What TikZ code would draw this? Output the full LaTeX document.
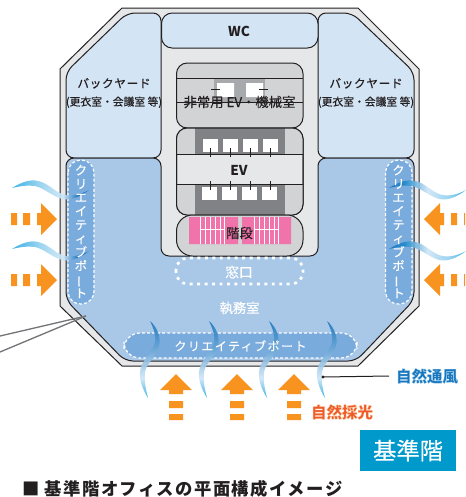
\documentclass[tikz,border=0pt]{standalone}
\usepackage{fontspec}
\usepackage{graphicx}
\setmainfont{Noto Sans CJK JP}
\usetikzlibrary{calc}
\definecolor{ink}{HTML}{231F20}
\definecolor{floorgray}{HTML}{E6E7E8}
\definecolor{coregray}{HTML}{D1D3D4}
\definecolor{darkgray}{HTML}{808285}
\definecolor{midgray}{HTML}{A7A9AC}
\definecolor{paleblue}{HTML}{D3E4F5}
\definecolor{officeblue}{HTML}{A9C8E8}
\definecolor{portblue}{HTML}{7AABDD}
\definecolor{arrowor}{HTML}{F7931E}
\definecolor{stairpink}{HTML}{F173AC}
\definecolor{tagblue}{HTML}{0099CC}
\definecolor{windcy}{HTML}{29ABE2}
\definecolor{winddk}{HTML}{1B75BC}
\definecolor{windpl}{HTML}{CFE6F6}
\definecolor{redor}{HTML}{EE5A2B}
\pgfdeclarehorizontalshading{windLR}{100bp}{color(0bp)=(windcy);color(25bp)=(windcy);color(45bp)=(windpl!70!windcy);color(58bp)=(windpl);color(68bp)=(winddk);color(75bp)=(winddk);color(100bp)=(winddk)}
\pgfdeclarehorizontalshading{windRL}{100bp}{color(0bp)=(winddk);color(25bp)=(winddk);color(35bp)=(winddk!60!windcy);color(50bp)=(windpl);color(65bp)=(windpl!60!windcy);color(75bp)=(windcy);color(100bp)=(windcy)}
\pgfdeclareverticalshading{windUP}{100bp}{color(0bp)=(windcy);color(25bp)=(windcy);color(38bp)=(windpl);color(55bp)=(winddk!50!windpl);color(75bp)=(winddk);color(100bp)=(winddk)}
% one single text whose outline is stroked in a second colour (#1 = weight, #2 = stroke rgb)
\newcommand{\halotxt}[3]{\leavevmode\special{pdf:code q #2 RG}{\addfontfeature{FakeBold=#1}#3}\special{pdf:code Q}}
\newcommand{\med}{\addfontfeature{FakeBold=0.35}}
\tikzset{
  x=0.75pt,y=-0.75pt,
  wall/.style={draw=ink,line width=0.75pt},
  arrowfill/.style={fill=arrowor,draw=none},
  port/.style={fill=portblue,draw=white,line width=0.9pt,dash pattern=on 2.2pt off 1.6pt,rounded corners=9.5pt},
  lbl/.style={text=ink,font=\fontsize{10pt}{12pt}\selectfont\med,inner sep=0pt},
  boldlbl/.style={text=ink,font=\fontsize{10.2pt}{12pt}\selectfont\bfseries,inner sep=0pt},
  vport/.style={text=white,align=center,inner sep=0pt,font=\fontsize{9.2pt}{10.25pt}\selectfont\med},
  tick/.style={draw=ink,line width=0.55pt},
  stripe/.style={draw=white,line width=0.7pt},
  sq/.style={fill=white,draw=none},
  leader/.style={draw=darkgray!90!black,line width=1pt}
}
\newcommand{\sideswoosh}[3]{%
  \shade[shading=#3,opacity=0.92,xshift=#1*0.75pt,yshift=-#2*0.75pt]
   (12,188) .. controls (22,182) and (30,179) .. (38,181)
   .. controls (48,183) and (54,191) .. (62,194)
   .. controls (70,197) and (80,195) .. (89,190)
   .. controls (80,197) and (70,201) .. (62,199)
   .. controls (52,196) and (44,188) .. (35,186)
   .. controls (28,185) and (20,186) .. (12,188) -- cycle;}
\newcommand{\upswoosh}[1]{%
  \shade[shading=windUP,opacity=0.92,xshift=#1*0.75pt]
   (150,321) .. controls (158,328) and (161,338) .. (159,346)
   .. controls (156,358) and (147,362) .. (145,372)
   .. controls (144,382) and (146,390) .. (148,398)
   .. controls (143,390) and (139,380) .. (140,372)
   .. controls (141,360) and (153,352) .. (155,342)
   .. controls (156,334) and (153,327) .. (150,321) -- cycle;}
\newcommand{\arrowR}[1]{%
  \fill[arrowfill,yshift=-#1*0.75pt] (11,213) rectangle (17,225) (23,213) rectangle (30,225)
   (37,213) -- (41,213) -- (41,203) -- (57,219) -- (41,235) -- (41,225) -- (37,225) -- cycle;}
\newcommand{\arrowL}[1]{%
  \fill[arrowfill,yshift=-#1*0.75pt] (465,213) rectangle (464,225) (451,213) rectangle (457,225)
   (444,213) -- (440,213) -- (440,203) -- (424,219) -- (440,235) -- (440,225) -- (444,225) -- cycle;}
\newcommand{\arrowU}[1]{%
  \fill[arrowfill,xshift=#1*0.75pt] (169,401) rectangle (183,408) (169,414) rectangle (183,420)
   (169,394) -- (169,390) -- (160,390) -- (176,374) -- (192,390) -- (183,390) -- (183,394) -- cycle;}
\newcommand{\bylabel}{{\fontsize{8.7pt}{10pt}\selectfont\addfontfeature{LetterSpace=6}バックヤード}\\{\fontsize{8.1pt}{10pt}\selectfont (更衣室・会議室 等)}}
\begin{document}
\begin{tikzpicture}
\useasboundingbox (0,0) rectangle (465,497);
% building
\draw[wall,fill=floorgray] (122,8) -- (358,8) -- (419,69) -- (419,306) -- (358,366) -- (122,366) -- (60,306) -- (60,69) -- cycle;
% back yards and WC
\draw[wall,fill=paleblue,rounded corners=6pt] (127,13) -- (161,13) -- (161,158) -- (66,158) -- (66,72) -- cycle;
\draw[wall,fill=paleblue,rounded corners=6pt] (318,13) -- (352,13) -- (414,72) -- (414,158) -- (318,158) -- cycle;
\draw[wall,fill=paleblue,rounded corners=8pt] (161.5,13) -- (318,13) -- (318,48) -- (161.5,48) -- cycle;
% office floor
\draw[wall,fill=officeblue,rounded corners=6pt] (66,158) -- (161,158) -- (161,256) -- (318,256) -- (318,158) -- (414,158) -- (414,300) -- (356,361) -- (125,361) -- (66,300) -- cycle;
% core: service room
\draw[wall,fill=coregray,rounded corners=8pt] (176.5,63) rectangle (303,128);
\fill[midgray] (214,79) rectangle (265,103);
\fill[sq] (217,83) rectangle (234,97) (246,83) rectangle (263,97);
\draw[tick] (176.5,78.5) -- (303,78.5);
\draw[tick] (176.5,102.5) -- (303,102.5);
\draw[tick] (211,89) -- (220,89);
\draw[tick] (259,89) -- (268,89);
% core: lifts
\draw[wall,fill=floorgray,rounded corners=8pt] (176.5,128) rectangle (303,215);
\begin{scope}
\clip[rounded corners=8pt] (176.5,128) rectangle (303,215);
\fill[coregray] (176.5,128) rectangle (303,154);
\fill[coregray] (176.5,184) rectangle (303,215);
\fill[darkgray] (195,128) rectangle (285,154);
\fill[darkgray] (195,184) rectangle (285,215);
\end{scope}
\draw[wall,rounded corners=8pt] (176.5,128) rectangle (303,215);
\draw[tick] (176.5,154) -- (303,154);
\draw[tick] (176.5,184) -- (303,184);
\foreach \xa in {203,223,243,263} {
  \fill[sq] (\xa,139) rectangle ++(15,13);
  \draw[tick] ($(\xa,148)+(7.5,0)$) -- ($(\xa,157)+(7.5,0)$);
  \fill[sq] (\xa-0.7,187) rectangle ++(15,13);
  \draw[tick] ($(\xa,181)+(7,0)$) -- ($(\xa,190)+(7,0)$);
}
% core: stairs
\draw[wall,fill=coregray,rounded corners=12pt] (176.5,215) rectangle (303,256);
\fill[stairpink] (189,217) rectangle (238,244) (242,217) rectangle (291,244);
\foreach \xa in {200.7,205.7,210.7,215.7,220,224.7,254,259,264,269,274,278} {
  \draw[stripe] (\xa,217) -- (\xa,244);
}
\draw[stripe] (200.7,229) -- (224.7,229) (254,229) -- (278,229);
% window counter
\draw[draw=white,line width=2pt,dash pattern=on 2.2pt off 3.4pt,rounded corners=9pt] (176,258) rectangle (303,284);
% creative ports
\draw[port] (68,160) rectangle (94,304);
\draw[port] (385.5,160) rectangle (412,304);
\draw[port,rounded corners=12pt] (124,333) rectangle (357,358);
% wind
\sideswoosh{0}{0}{windLR}
\sideswoosh{0}{61}{windLR}
\sideswoosh{377}{0}{windRL}
\sideswoosh{377}{61}{windRL}
\upswoosh{0}
\upswoosh{59}
\upswoosh{119}
\upswoosh{177}
% orange arrows
\arrowR{0}
\arrowR{61}
\arrowL{0}
\arrowL{61}
\arrowU{0}
\arrowU{61}
\arrowU{118}
% leaders
\coordinate (leadtip) at (86,316);
\coordinate (leadA) at (0,336);
\coordinate (leadB) at (0,352);
\draw[leader] (leadA) -- (leadtip);
\draw[leader] (leadB) -- (leadtip);
% labels
\node[boldlbl] (wc) at (239,31) {WC};
\node[boldlbl] (ev) at (239,170) {EV};
\node[lbl] (svc) at (239.5,102) {非常用 EV・機械室};
\node[lbl] (stair) at (239.5,233) {階段};
\node[lbl,align=center,font=\fontsize{8.7pt}{13.5pt}\selectfont\med] (byL) at (114,93) {\bylabel};
\node[lbl,align=center,font=\fontsize{8.7pt}{13.5pt}\selectfont\med] (byR) at (366,93) {\bylabel};
\node[vport] (portL) at (81,231.5) {ク\\リ\\エ\\イ\\テ\\ィ\\ブ\\ポ\\\rotatebox[origin=c]{90}{ー}\\ト};
\node[vport] (portR) at (398.5,231.5) {ク\\リ\\エ\\イ\\テ\\ィ\\ブ\\ポ\\\rotatebox[origin=c]{90}{ー}\\ト};
\node[text=white,inner sep=0pt,font=\fontsize{9pt}{10pt}\selectfont\med] (portB) at (240.5,346) {\addfontfeature{LetterSpace=12}クリエイティブポート};
\node[text=white,inner sep=0pt,font=\fontsize{10.3pt}{11pt}\selectfont\med] (mado) at (239,272) {窓口};
\node[text=white,inner sep=0pt,font=\fontsize{10pt}{11pt}\selectfont\med] (office) at (239.5,308) {執務室};
\node[text=winddk,inner sep=0pt,font=\fontsize{11.6pt}{13pt}\selectfont\bfseries] (wind) at (427,376) {\halotxt{2}{0.55 0.78 0.93}{自然通風}};
\node[text=redor,inner sep=0pt,font=\fontsize{11.6pt}{13pt}\selectfont\bfseries] (sun) at (342,412) {\halotxt{2}{0.98 0.75 0.55}{自然採光}};
\node[fill=tagblue,text=white,minimum width=72pt,minimum height=30.75pt,inner sep=0pt,font=\fontsize{17.5pt}{20pt}\selectfont\addfontfeature{FakeBold=0.5}] (tag) at (408,450.5) {基準階};
\node[text=ink,anchor=west,inner sep=0pt,font=\fontsize{13pt}{16pt}\selectfont\bfseries] (cap) at (22,488.5) {\addfontfeature{LetterSpace=8}■ 基準階オフィスの平面構成イメージ};
% wind callout
\coordinate (winddot) at (323,377);
\fill[ink] (winddot) circle (1.2pt);
\draw[draw=ink,line width=0.75pt] (winddot) -- (wind.west -| 389,0);
\end{tikzpicture}
\end{document}
